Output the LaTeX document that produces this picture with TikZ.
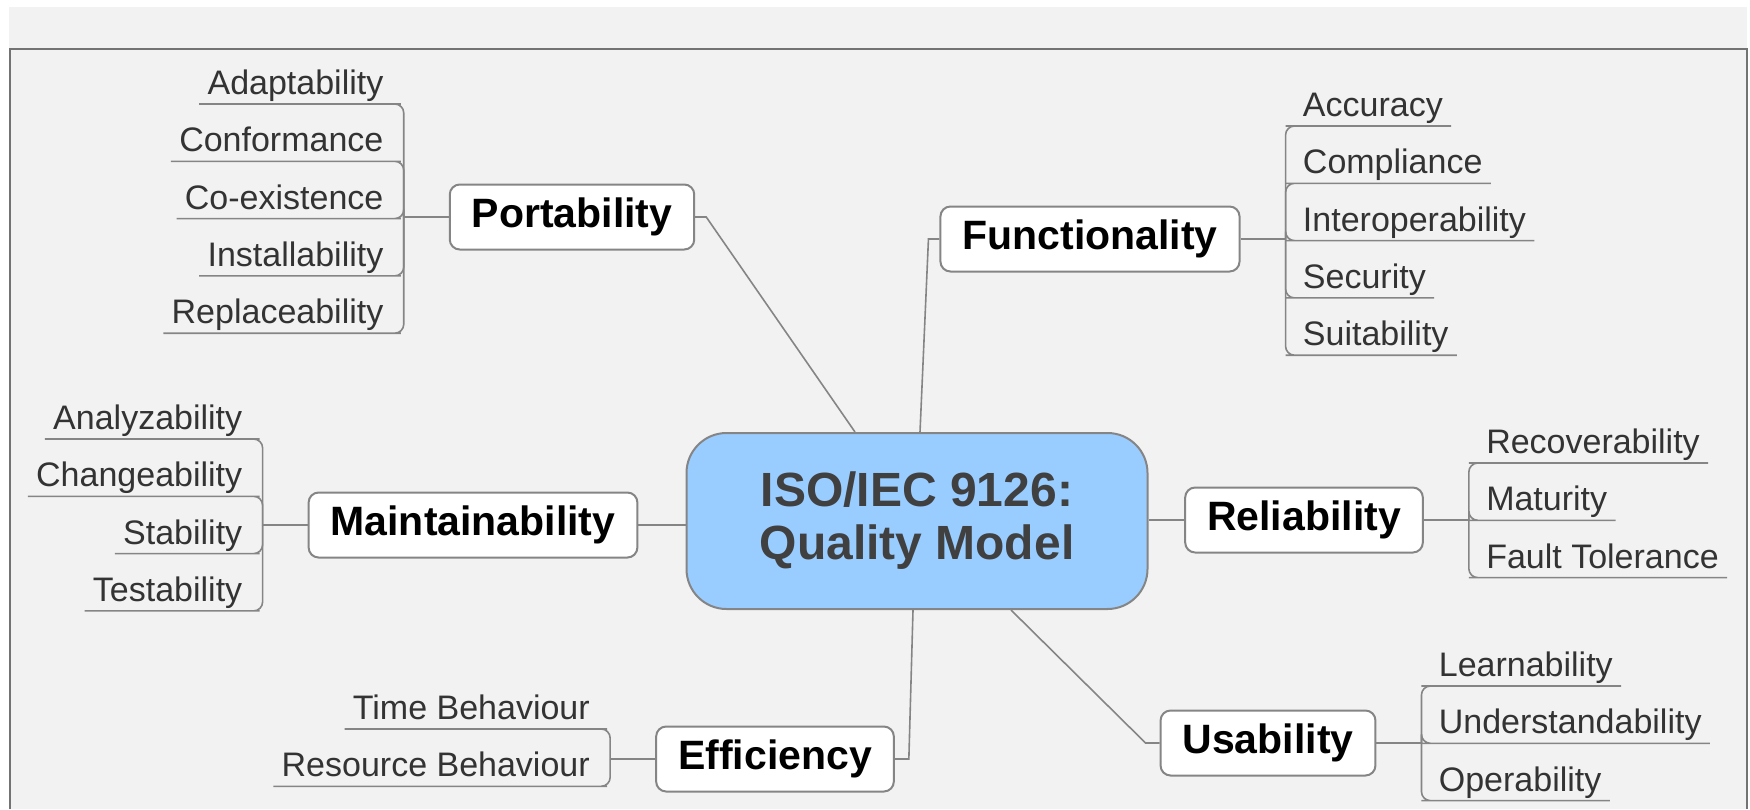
\documentclass[tikz,border=0pt]{standalone}
\usepackage{fontspec}
\setmainfont{Liberation Sans}
\usetikzlibrary{positioning}
\definecolor{panelgray}{HTML}{F2F2F2}
\definecolor{rootblue}{HTML}{99CCFF}
\definecolor{linegray}{HTML}{858585}
\tikzset{
	root/.style={
		rectangle,
		rounded corners=20pt,
		fill=rootblue,
		draw=linegray, line width=1pt,
		minimum width=230.5pt,
		minimum height=88pt,
		align=center,
		text=black!75,
		font=\fontsize{24}{26.5}\selectfont\bfseries},
	branch/.style={
		rectangle,
		rounded corners=5pt,
		fill=white,
		draw=linegray, line width=1pt,
		inner xsep=11pt,
		minimum height=32.5pt,
		font=\fontsize{20.5}{24}\selectfont\bfseries},
	leaf/.style={
		inner xsep=4pt, inner ysep=0pt,
		text height=13pt, text depth=4.5pt,
		text=black!80,
		font=\fontsize{17}{20}\selectfont},
	leafL/.style={leaf, anchor=north east},
	leafR/.style={leaf, anchor=north west},
	link/.style={draw=linegray, line width=0.8pt},
	twig/.style={link, rounded corners=4.5pt},
}

\begin{document}
\begin{tikzpicture}
		[x=0.5pt, y=-0.5pt, node distance=10.75pt]
		\useasboundingbox (0,0) rectangle (1750,809);
		\fill[panelgray] (9,7) rectangle (1747,809);
		\draw[black!55, line width=1pt] (10,809) -- (10,49) -- (1747,49) -- (1747,809);
		
		\node[root] (root) at (917,521) {ISO/IEC 9126:\\Quality Model};
		
		\node[branch] (portab) at (572,217)  {Portability};
		\node[branch] (func)   at (1090,239) {Functionality};
		\node[branch] (maint)  at (473,525)  {Maintainability};
		\node[branch] (reliab) at (1304,520) {Reliability};
		\node[branch] (effic)  at (775,759)  {Efficiency};
		\node[branch] (usab)   at (1268,743) {Usability};
		
		\draw[link] (portab.east) -- ++(11,0) -- ([xshift=-31pt]root.north);
		\draw[link] (func.west) -- ++(-11,0) -- ([xshift=1.5pt]root.north);
		\draw[link] (maint.east) -- (root.west |- maint.east);
		\draw[link] (reliab.west) -- (root.east |- reliab.west);
		\draw[link] (effic.east) -- ++(14,0) -- ([xshift=-2pt]root.south);
		\draw[link] (usab.west) -- ++(-14,0) -- ([xshift=47pt]root.south);
		
		\coordinate[left=22.5pt of portab] (portj);
		\coordinate[right=22.5pt of func] (funcj);
		\coordinate[left=22.5pt of maint] (maintj);
		\coordinate[right=22.5pt of reliab] (reliabj);
		\coordinate[left=22.5pt of effic] (efficj);
		\coordinate[right=22.5pt of usab] (usabj);
		\draw[link] (portab) -- (portj) (func) -- (funcj) (maint) -- (maintj);
		\draw[link] (reliab) -- (reliabj) (effic) -- (efficj) (usab) -- (usabj);
		
		% Portability
		\node[leaf, anchor=south east] (adapt) at ([shift={(-12,-113)}]portj) {Adaptability};
		\node[below=of adapt.south east, leafL] (conform) {Conformance};
		\node[below=of conform.south east, leafL] (coexist) {Co-existence};
		\node[below=of coexist.south east, leafL] (install) {Installability};
		\node[below=of install.south east, leafL] (replace) {Replaceability};
		\foreach \n in {adapt,conform,coexist,install,replace}
			\draw[twig] (portj) |- (\n.south east) -- (\n.south west);
		
		% Functionality
		\node[leaf, anchor=south west] (accur) at ([shift={(9,-113)}]funcj) {Accuracy};
		\node[below=of accur.south west, leafR] (compl) {Compliance};
		\node[below=of compl.south west, leafR] (interop) {Interoperability};
		\node[below=of interop.south west, leafR] (secur) {Security};
		\node[below=of secur.south west, leafR] (suitab) {Suitability};
		\foreach \n in {accur,compl,interop,secur,suitab}
			\draw[twig] (funcj) |- (\n.south west) -- (\n.south east);
		
		% Maintainability
		\node[leaf, anchor=south east] (analyz) at ([shift={(-12,-86)}]maintj) {Analyzability};
		\node[below=of analyz.south east, leafL] (change) {Changeability};
		\node[below=of change.south east, leafL] (stabil) {Stability};
		\node[below=of stabil.south east, leafL] (testab) {Testability};
		\foreach \n in {analyz,change,stabil,testab}
			\draw[twig] (maintj) |- (\n.south east) -- (\n.south west);
		
		% Reliability
		\node[leaf, anchor=south west] (recov) at ([shift={(9,-57)}]reliabj) {Recoverability};
		\node[below=of recov.south west, leafR] (matur) {Maturity};
		\node[below=of matur.south west, leafR] (fault) {Fault Tolerance};
		\foreach \n in {recov,matur,fault}
			\draw[twig] (reliabj) |- (\n.south west) -- (\n.south east);
		
		% Efficiency
		\node[leaf, anchor=south east] (timeb) at ([shift={(-12,-30)}]efficj) {Time Behaviour};
		\node[below=of timeb.south east, leafL] (resb) {Resource Behaviour};
		\foreach \n in {timeb,resb}
			\draw[twig] (efficj) |- (\n.south east) -- (\n.south west);
		
		% Usability
		\node[leaf, anchor=south west] (learn) at ([shift={(9,-57)}]usabj) {Learnability};
		\node[below=of learn.south west, leafR] (underst) {Understandability};
		\node[below=of underst.south west, leafR] (operab) {Operability};
		\foreach \n in {learn,underst,operab}
			\draw[twig] (usabj) |- (\n.south west) -- (\n.south east);
		
		\end{tikzpicture}
\end{document}
